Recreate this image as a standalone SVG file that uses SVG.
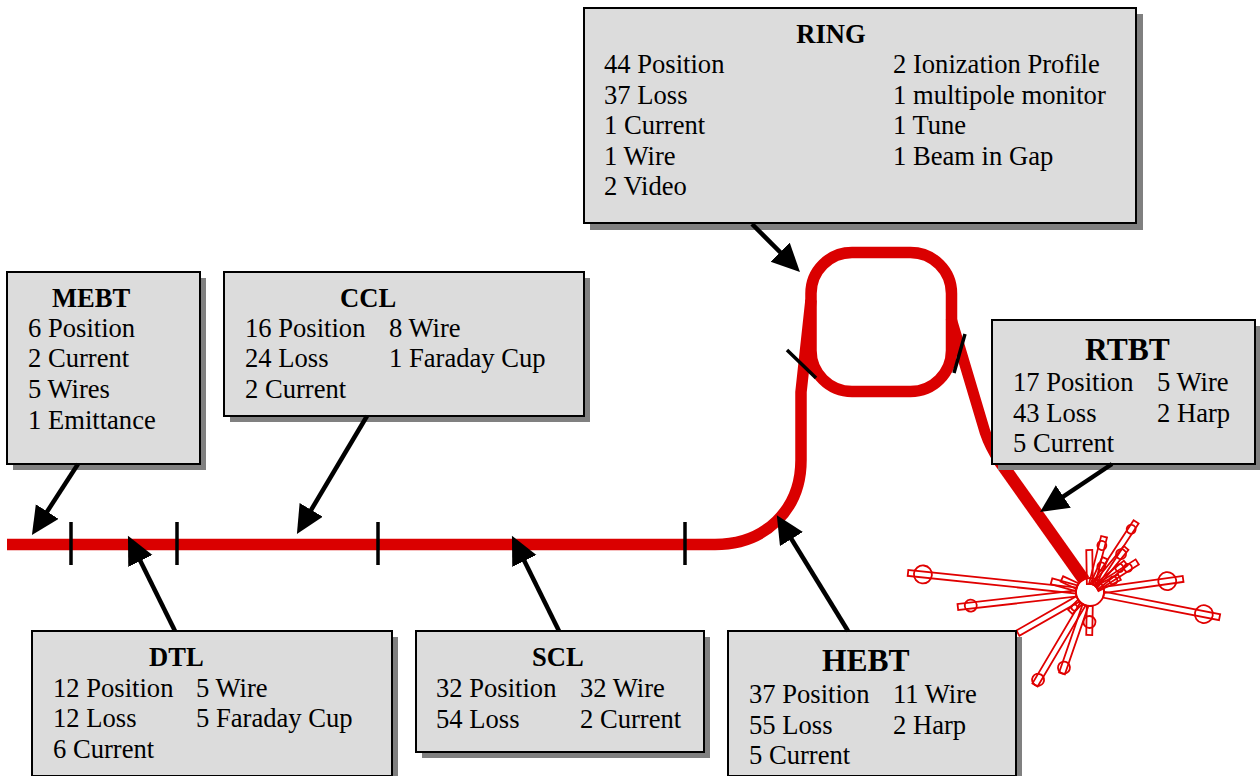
<svg xmlns="http://www.w3.org/2000/svg" width="1260" height="776" viewBox="0 0 1260 776">
<style>
text{font-family:"Liberation Serif","Times New Roman",serif;font-size:26.6px;fill:#000}
.t{font-weight:700}
.box{fill:#dcdcdc;stroke:#000;stroke-width:2}
.sh{fill:#808080}
.beam{fill:none;stroke:#da0000;stroke-linejoin:round}
.tick{stroke:#000;stroke-width:3.5;fill:none}
.arrow{stroke:#000;stroke-width:4.5;fill:none;marker-end:url(#ah)}
.sp rect,.sp circle{fill:none;stroke:#e00000;stroke-width:1.8}
</style>
<defs>
<marker id="ah" markerUnits="userSpaceOnUse" markerWidth="32" markerHeight="32" refX="20" refY="13.5" orient="auto">
<path d="M0 0L28 13.5L0 27Z" fill="#000"/>
</marker>
</defs>
<g id="connectors">
<path class="beam" stroke-width="11.5" d="M7 544.5H715C765 544.5 801 510 801 460V392L811 300"/>
<rect class="beam" stroke-width="11.5" x="811" y="252.5" width="140.5" height="139" rx="41"/>
<path class="beam" stroke-width="11" d="M951 318L985 432Q990 447 1000 462"/>
<path class="beam" stroke-width="12.5" d="M996 456L1084 580"/>
<g class="tick"><path d="M71 522V565M177 522V565M378 522V565M685 522V565M787 350L816 378M965 334L954 373"/></g>
</g>
<g id="beam-dump" class="sp">
<circle cx="1090" cy="592" r="14"/>
<g transform="translate(1090 592) rotate(186)"><rect x="14" y="-3" width="169" height="6"/><circle cx="168" r="9"/></g>
<g transform="translate(1090 592) rotate(173.5)"><rect x="14" y="-3" width="119" height="6"/><circle cx="120" r="6"/></g>
<g transform="translate(1090 592) rotate(150.3)"><rect x="14" y="-3" width="69" height="6"/></g>
<g transform="translate(1090 592) rotate(120.6)"><rect x="14" y="-3" width="94" height="6"/><circle cx="102" r="6"/></g>
<g transform="translate(1090 592) rotate(109)"><rect x="14" y="-3" width="72" height="6"/><circle cx="80" r="6"/></g>
<g transform="translate(1090 592) rotate(91)"><rect x="14" y="-3" width="29" height="6"/><circle cx="30" r="6"/></g>
<g transform="translate(1090 592) rotate(11)"><rect x="14" y="-3" width="118" height="6"/><circle cx="116" r="9"/></g>
<g transform="translate(1090 592) rotate(-8)"><rect x="14" y="-3" width="80" height="6"/><circle cx="78" r="9"/></g>
<g transform="translate(1090 592) rotate(-56.7)"><rect x="8" y="-3" width="76" height="6"/><circle cx="75" r="4.5"/></g>
<g transform="translate(1090 592) rotate(-75.7)"><rect x="8" y="-3" width="49" height="6"/><circle cx="48" r="4.5"/></g>
<g transform="translate(1090 592) rotate(-91)"><rect x="8" y="-3" width="34" height="6"/></g>
<g transform="translate(1090 592) rotate(-50.7)"><rect x="8" y="-3" width="49" height="6"/><circle cx="49" r="5"/></g>
<g transform="translate(1090 592) rotate(-32.5)"><rect x="8" y="-3" width="48" height="6"/><circle cx="45" r="4"/></g>
<g transform="translate(1090 592) rotate(-66)"><rect x="8" y="-3" width="29" height="6"/><circle cx="28" r="4"/></g>
<g transform="translate(1090 592) rotate(-26.5)"><rect x="8" y="-3" width="25" height="6"/><circle cx="26" r="4"/></g>
<g transform="translate(1090 592) rotate(-39)"><rect x="8" y="-3" width="38" height="6"/><circle cx="38" r="4"/></g>
<g transform="translate(1090 592) rotate(195.7)"><rect x="14" y="-3" width="26" height="6"/></g>
<g transform="translate(1090 592) rotate(205)"><rect x="14" y="-3" width="17" height="6"/></g>
<g transform="translate(1090 592) rotate(135)"><rect x="14" y="-3" width="14" height="6"/><circle cx="22" r="3"/></g>
</g>
<g id="RING"><rect class="sh" x="590" y="14" width="553" height="216"/><rect class="box" x="584" y="8" width="552" height="215"/>
<text class="t" x="831" y="43" text-anchor="middle">RING</text>
<text x="604" y="73">44 Position</text><text x="604" y="104">37 Loss</text><text x="604" y="134">1 Current</text><text x="604" y="165">1 Wire</text><text x="604" y="195">2 Video</text>
<text x="893" y="73">2 Ionization Profile</text><text x="893" y="104">1 multipole monitor</text><text x="893" y="134">1 Tune</text><text x="893" y="165">1 Beam in Gap</text></g>
<g id="MEBT"><rect class="sh" x="13" y="278" width="193" height="192"/><rect class="box" x="7" y="272" width="193" height="192"/>
<text class="t" x="52" y="307">MEBT</text>
<text x="28" y="337">6 Position</text><text x="28" y="367">2 Current</text><text x="28" y="398">5 Wires</text><text x="28" y="429">1 Emittance</text></g>
<g id="CCL"><rect class="sh" x="230" y="278" width="360" height="144"/><rect class="box" x="224" y="272" width="360" height="144"/>
<text class="t" x="340" y="307">CCL</text>
<text x="245" y="337">16 Position</text><text x="245" y="367">24 Loss</text><text x="245" y="398">2 Current</text>
<text x="389" y="337">8 Wire</text><text x="389" y="367">1 Faraday Cup</text></g>
<g id="RTBT"><rect class="sh" x="998" y="326" width="263" height="144"/><rect class="box" x="992" y="320" width="263" height="144"/>
<text class="t" x="1085" y="360" style="font-size:31.5px">RTBT</text>
<text x="1013" y="391">17 Position</text><text x="1013" y="422">43 Loss</text><text x="1013" y="452">5 Current</text>
<text x="1157" y="391">5 Wire</text><text x="1157" y="422">2 Harp</text></g>
<g id="DTL"><rect class="sh" x="38" y="637" width="360" height="145"/><rect class="box" x="32" y="631" width="360" height="145"/>
<text class="t" x="149" y="666">DTL</text>
<text x="53" y="697">12 Position</text><text x="53" y="727">12 Loss</text><text x="53" y="758">6 Current</text>
<text x="196" y="697">5 Wire</text><text x="196" y="727">5 Faraday Cup</text></g>
<g id="SCL"><rect class="sh" x="422" y="637" width="288" height="121"/><rect class="box" x="416" y="631" width="288" height="121"/>
<text class="t" x="532" y="666">SCL</text>
<text x="436" y="697">32 Position</text><text x="436" y="728">54 Loss</text>
<text x="580" y="697">32 Wire</text><text x="580" y="728">2 Current</text></g>
<g id="HEBT"><rect class="sh" x="734" y="637" width="288" height="145"/><rect class="box" x="728" y="631" width="288" height="145"/>
<text class="t" x="822" y="671" style="font-size:31.5px">HEBT</text>
<text x="749" y="703">37 Position</text><text x="749" y="734">55 Loss</text><text x="749" y="764">5 Current</text>
<text x="893" y="703">11 Wire</text><text x="893" y="734">2 Harp</text></g>
<g id="arrows">
<path class="arrow" d="M78 464L36.3 528.3"/>
<path class="arrow" d="M367 416L301 527"/>
<path class="arrow" d="M175 631L131.5 543"/>
<path class="arrow" d="M559 631L515.5 543"/>
<path class="arrow" d="M848 631L781 522"/>
<path class="arrow" d="M752 224L794.3 266.3"/>
<path class="arrow" d="M1112 464L1046.7 507.6"/>
</g>
</svg>
